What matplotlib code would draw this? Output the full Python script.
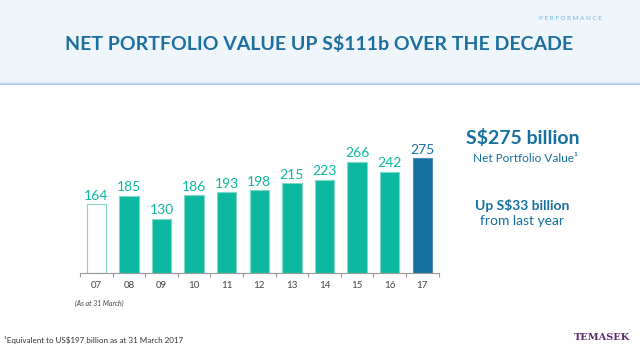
import matplotlib.pyplot as plt
from matplotlib.patches import Rectangle
import numpy as np

years = ["07", "08", "09", "10", "11", "12", "13", "14", "15", "16", "17"]
values = [164, 185, 130, 186, 193, 198, 215, 223, 266, 242, 275]

TEAL = "#0db8a0"
BLUE = "#1570a0"
TITLE_BLUE = "#1c6f9e"

plt.rcParams["font.family"] = ["Lato", "DejaVu Sans"]

fig = plt.figure(figsize=(6.4, 3.6), dpi=100)

# header band
fig.patches.append(Rectangle((0, 1 - 82 / 360), 1, 82 / 360, transform=fig.transFigure,
                             facecolor="#eef5fb", edgecolor="none", zorder=0))
for i, c in enumerate(["#dbe9f6", "#c3dbf0", "#a9cbea"]):
    fig.patches.append(Rectangle((0, 1 - (83 + i) / 360), 1, 1 / 360, transform=fig.transFigure,
                                 facecolor=c, edgecolor="none", zorder=0))

fig.text(0.94, 1 - 18 / 360, "P E R F O R M A N C E", fontsize=4.5, color="#6cb8e6",
         ha="right", va="center")
fig.text(319 / 640, 1 - 44 / 360, "NET PORTFOLIO VALUE UP S$111b OVER THE DECADE",
         fontsize=14, fontweight="bold", color=TITLE_BLUE, ha="center", va="center")

ax = fig.add_axes([80 / 640, 1 - 273 / 360, 358.6 / 640, 125.4 / 360])
x = np.arange(len(years))
colors = [TEAL] * len(years)
colors[-1] = BLUE
bars = ax.bar(x, values, width=0.6, color=colors, edgecolor="#7fd8c8", linewidth=0.8)
bars[0].set_facecolor("white")
bars[0].set_edgecolor("#7fd8c8")
bars[-1].set_edgecolor("#4a8fbc")

for xi, v, c in zip(x, values, colors):
    ax.text(xi, v + 6, str(v), ha="center", va="bottom", fontsize=10,
            color=TEAL if c == TEAL else BLUE)

ax.set_xlim(-0.5, len(years) - 0.5)
ax.set_ylim(0, 300)
ax.set_yticks([])
for s in ["top", "right", "left"]:
    ax.spines[s].set_visible(False)
ax.spines["bottom"].set_color("#999999")
ax.spines["bottom"].set_linewidth(0.8)
ax.set_xticks(x)
ax.set_xticklabels(years, fontsize=7, color="#444444")
ax.tick_params(axis="x", which="major", length=0, pad=6)
ax.set_xticks(np.arange(-0.5, len(years)), minor=True)
ax.tick_params(axis="x", which="minor", length=3, color="#999999", width=0.8)
ax.patch.set_alpha(0)

fig.text(75 / 640, 1 - 303 / 360, "(As at 31 March)", fontsize=5, color="#444444",
         ha="left", va="center", style="italic")

fig.text(580 / 640, 1 - 138 / 360, "S$275 billion", fontsize=14, fontweight="bold",
         color=BLUE, ha="right", va="center")
fig.text(578 / 640, 1 - 158 / 360, "Net Portfolio Value\u00b9", fontsize=8.5,
         color=BLUE, ha="right", va="center")
fig.text(522 / 640, 1 - 206 / 360, "Up S$33 billion", fontsize=10, fontweight="bold",
         color=BLUE, ha="center", va="center")
fig.text(522 / 640, 1 - 221 / 360, "from last year", fontsize=10,
         color=BLUE, ha="center", va="center")

fig.text(4 / 640, 1 - 340 / 360, "\u00b9Equivalent to US$197 billion as at 31 March 2017",
         fontsize=5.8, color="#333333", ha="left", va="center")
fig.text(630 / 640, 1 - 337 / 360, "TEMASEK", fontsize=7, fontweight="bold",
         family="DejaVu Serif", color="#5b2d6e", ha="right", va="center")

fig.savefig("out.png", dpi=100)
